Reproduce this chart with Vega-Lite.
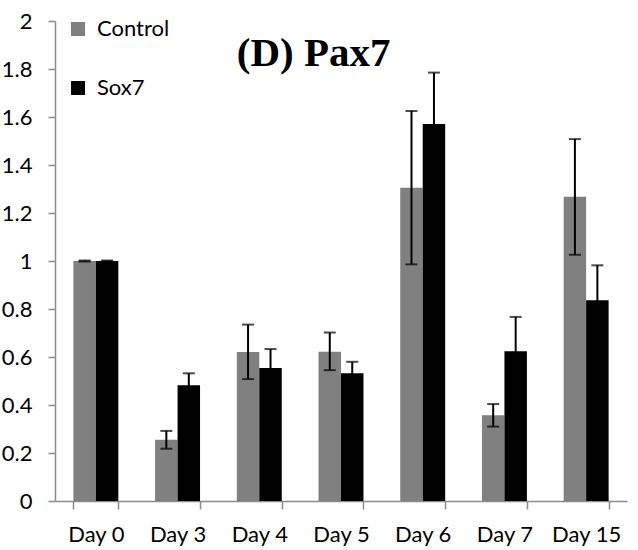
{
  "$schema": "https://vega.github.io/schema/vega-lite/v6.json",
  "autosize": "none",
  "width": 572,
  "height": 480,
  "padding": {"left": 55, "top": 21, "right": 11, "bottom": 49},
  "background": "white",
  "config": {
    "view": {"stroke": null},
    "font": "Lato",
    "axis": {
      "labelFont": "Lato",
      "labelFontSize": 22,
      "labelColor": "#000000",
      "domainColor": "#8c8c8c",
      "tickColor": "#8c8c8c",
      "domainWidth": 1.5,
      "tickWidth": 1.5,
      "grid": false,
      "title": null
    },
    "legend": {
      "labelFont": "Lato",
      "labelFontSize": 22,
      "labelColor": "#000000",
      "symbolType": "square",
      "symbolSize": 196,
      "symbolStrokeWidth": 0,
      "rowPadding": 37,
      "labelOffset": 8,
      "padding": 0
    }
  },
  "datasets": {
    "bars": [
      {"day": "Day 0", "group": "Control", "value": 1.0, "lo": 0.998, "hi": 1.002},
      {"day": "Day 0", "group": "Sox7", "value": 1.0, "lo": 0.998, "hi": 1.002},
      {"day": "Day 3", "group": "Control", "value": 0.255, "lo": 0.218, "hi": 0.292},
      {"day": "Day 3", "group": "Sox7", "value": 0.482, "lo": 0.432, "hi": 0.532},
      {"day": "Day 4", "group": "Control", "value": 0.621, "lo": 0.508, "hi": 0.735},
      {"day": "Day 4", "group": "Sox7", "value": 0.554, "lo": 0.475, "hi": 0.633},
      {"day": "Day 5", "group": "Control", "value": 0.622, "lo": 0.545, "hi": 0.702},
      {"day": "Day 5", "group": "Sox7", "value": 0.532, "lo": 0.484, "hi": 0.58},
      {"day": "Day 6", "group": "Control", "value": 1.305, "lo": 0.986, "hi": 1.625},
      {"day": "Day 6", "group": "Sox7", "value": 1.571, "lo": 1.357, "hi": 1.785},
      {"day": "Day 7", "group": "Control", "value": 0.357, "lo": 0.31, "hi": 0.404},
      {"day": "Day 7", "group": "Sox7", "value": 0.624, "lo": 0.481, "hi": 0.767},
      {"day": "Day 15", "group": "Control", "value": 1.268, "lo": 1.026, "hi": 1.508},
      {"day": "Day 15", "group": "Sox7", "value": 0.836, "lo": 0.69, "hi": 0.982}
    ],
    "heading": [
      {"label": "(D) Pax7", "day": "Day 4", "y": 1.814}
    ]
  },
  "layer": [
    {
      "data": {"name": "bars"},
      "mark": {"type": "bar"},
      "encoding": {
        "x": {
          "field": "day",
          "type": "nominal",
          "scale": {
            "domain": ["Day 0", "Day 3", "Day 4", "Day 5", "Day 6", "Day 7", "Day 15"],
            "paddingInner": 0.45,
            "paddingOuter": 0.225
          },
          "axis": {
            "labelAngle": 0,
            "tickBand": "extent",
            "tickSize": 8,
            "labelPadding": 15
          }
        },
        "xOffset": {
          "field": "group",
          "type": "nominal",
          "scale": {"domain": ["Control", "Sox7"], "paddingInner": 0, "paddingOuter": 0}
        },
        "y": {
          "field": "value",
          "type": "quantitative",
          "scale": {"domain": [0, 2], "nice": false},
          "axis": {
            "values": [0, 0.2, 0.4, 0.6, 0.8, 1, 1.2, 1.4, 1.6, 1.8, 2],
            "format": ".1~f",
            "tickSize": 7,
            "labelPadding": 16
          }
        },
        "color": {
          "field": "group",
          "type": "nominal",
          "scale": {"domain": ["Control", "Sox7"], "range": ["#808080", "#000000"]},
          "legend": {"orient": "none", "legendX": 12, "legendY": -3, "title": null}
        }
      }
    },
    {
      "data": {"name": "bars"},
      "mark": {"type": "rule", "color": "#000000", "strokeWidth": 2},
      "encoding": {
        "x": {"field": "day", "type": "nominal"},
        "xOffset": {"field": "group", "type": "nominal"},
        "y": {"field": "lo", "type": "quantitative"},
        "y2": {"field": "hi"}
      }
    },
    {
      "data": {"name": "bars"},
      "mark": {"type": "tick", "color": "#000000", "size": 12, "thickness": 2},
      "encoding": {
        "x": {"field": "day", "type": "nominal"},
        "xOffset": {"field": "group", "type": "nominal"},
        "y": {"field": "hi", "type": "quantitative"}
      }
    },
    {
      "data": {"name": "bars"},
      "mark": {"type": "tick", "color": "#000000", "size": 12, "thickness": 2},
      "encoding": {
        "x": {"field": "day", "type": "nominal"},
        "xOffset": {"field": "group", "type": "nominal"},
        "y": {"field": "lo", "type": "quantitative"}
      }
    },
    {
      "data": {"name": "heading"},
      "mark": {
        "type": "text",
        "font": "Liberation Serif",
        "fontSize": 41,
        "fontWeight": "bold",
        "color": "#000000",
        "align": "left",
        "baseline": "alphabetic"
      },
      "encoding": {
        "x": {"field": "day", "type": "nominal", "bandPosition": 0},
        "y": {"field": "y", "type": "quantitative"},
        "text": {"field": "label"}
      }
    }
  ]
}
